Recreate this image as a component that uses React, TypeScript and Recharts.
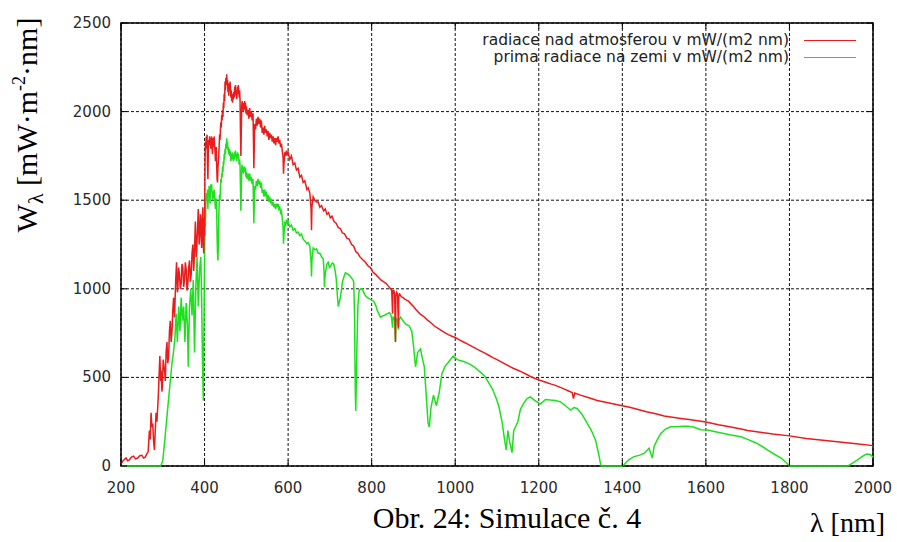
import React from 'react';
import { LineChart, Line, XAxis, YAxis, CartesianGrid, ReferenceArea } from 'recharts';

// Solar spectral irradiance above the atmosphere, mW/(m2 nm), as [wavelength nm, value]
const aboveAtmosphere: [number, number][] = [
  [200, 10], [205, 30], [212, 45], [216, 30], [220, 35], [225, 50], [230, 55], [235, 40], [240, 45],
  [245, 58], [250, 60], [254, 45], [258, 50], [262, 70], [265, 80], [268, 200], [270, 150],
  [272, 300], [274, 220], [276, 240], [278, 140], [280, 90], [282, 200], [284, 300], [286, 250],
  [289, 380], [291, 500], [293, 620], [295, 480], [296, 540], [298, 420], [299, 450], [301, 600],
  [303, 560], [305, 520], [306, 480], [308, 640], [310, 700], [312, 580], [314, 620], [316, 760],
  [318, 820], [320, 700], [322, 760], [324, 880], [326, 950], [328, 840], [329, 900], [331, 1050],
  [333, 1150], [335, 980], [336, 1000], [338, 1120], [340, 1080], [342, 1000], [344, 1030],
  [346, 1140], [348, 1120], [350, 1010], [352, 1050], [354, 1150], [356, 1110], [358, 990],
  [360, 1030], [362, 1120], [364, 1160], [366, 1040], [368, 1080], [370, 1200], [372, 1250],
  [374, 1100], [375, 1150], [377, 1300], [378, 1380], [380, 1180], [381, 1200], [383, 1330],
  [385, 1450], [387, 1250], [388, 1280], [390, 1420], [391, 1400], [392, 1300], [393, 1230],
  [394, 1350], [396, 1460], [397, 1250], [398, 1200], [399, 1400], [400, 1300], [401, 1700],
  [402, 1830], [403, 1790], [404, 1860], [405, 1820], [406, 1870], [407, 1700], [408, 1620],
  [409, 1780], [410, 1840], [411, 1810], [412, 1860], [413, 1820], [414, 1850], [415, 1790],
  [416, 1840], [417, 1860], [418, 1800], [419, 1760], [420, 1830], [421, 1850], [422, 1800],
  [423, 1860], [424, 1810], [425, 1780], [426, 1720], [427, 1760], [428, 1800], [429, 1700],
  [430, 1620], [431, 1600], [432, 1680], [433, 1720], [434, 1750], [435, 1810], [436, 1870],
  [437, 1840], [438, 1900], [439, 1940], [440, 1910], [441, 1980], [442, 1950], [443, 2010],
  [444, 1970], [445, 2050], [446, 2020], [447, 2100], [448, 2060], [449, 2170], [450, 2120],
  [451, 2190], [452, 2150], [453, 2210], [454, 2160], [455, 2180], [456, 2110], [457, 2140],
  [458, 2090], [459, 2160], [460, 2120], [461, 2170], [462, 2130], [463, 2080], [464, 2120],
  [465, 2060], [466, 2100], [467, 2050], [468, 2090], [469, 2070], [470, 2110], [471, 2080],
  [472, 2140], [473, 2110], [474, 2150], [475, 2090], [476, 2120], [477, 2070], [478, 2110],
  [479, 2140], [480, 2100], [481, 2150], [482, 2110], [483, 2080], [484, 2120], [485, 2060],
  [486, 1880], [487, 1750], [488, 1900], [489, 2030], [490, 2060], [491, 2010], [492, 2050],
  [493, 2000], [494, 2040], [495, 2010], [496, 2060], [497, 2020], [498, 2050], [499, 1990],
  [500, 2030], [502, 1980], [504, 2010], [506, 1960], [508, 2020], [510, 1970], [512, 2000],
  [514, 1950], [516, 1990], [517, 1850], [518, 1680], [519, 1800], [520, 1930], [522, 1900],
  [524, 1960], [526, 1920], [528, 1970], [530, 1930], [532, 1960], [534, 1910], [536, 1950],
  [538, 1880], [540, 1910], [542, 1870], [544, 1920], [546, 1880], [548, 1900], [550, 1860],
  [552, 1890], [554, 1840], [556, 1880], [558, 1850], [560, 1870], [562, 1830], [564, 1860],
  [566, 1820], [568, 1850], [570, 1810], [572, 1850], [574, 1830], [576, 1860], [578, 1820],
  [580, 1840], [582, 1800], [584, 1820], [586, 1780], [588, 1740], [589, 1650], [590, 1700],
  [592, 1770], [594, 1750], [596, 1780], [598, 1760], [600, 1770], [604, 1730], [608, 1750],
  [612, 1700], [616, 1710], [620, 1670], [624, 1680], [628, 1630], [632, 1640], [636, 1600],
  [640, 1610], [645, 1560], [648, 1570], [652, 1540], [655, 1450], [656, 1330], [657, 1460],
  [660, 1520], [664, 1500], [668, 1490], [672, 1490], [676, 1460], [680, 1470], [685, 1440],
  [689, 1450], [693, 1420], [697, 1430], [701, 1400], [705, 1410], [710, 1380], [715, 1370],
  [720, 1345], [725, 1340], [730, 1315], [735, 1310], [741, 1285], [746, 1280], [752, 1250],
  [757, 1240], [762, 1210], [767, 1200], [772, 1180], [778, 1165], [785, 1150], [791, 1130],
  [797, 1120], [803, 1095], [810, 1080], [816, 1065], [822, 1050], [828, 1040], [835, 1030],
  [840, 1015], [845, 1000], [848, 990], [850, 860], [851, 990], [853, 990], [855, 970],
  [857, 700], [858, 960], [860, 980], [862, 970], [864, 780], [865, 960], [867, 970],
  [871, 955], [875, 950], [880, 940], [888, 930], [894, 915], [900, 900], [907, 880],
  [915, 860], [924, 845], [933, 825], [941, 810], [950, 790], [960, 775], [970, 760],
  [978, 748], [985, 740], [992, 732], [1000, 725], [1010, 712], [1020, 700], [1030, 688],
  [1040, 675], [1050, 662], [1060, 650], [1070, 638], [1080, 625], [1090, 612], [1100, 600],
  [1110, 588], [1120, 575], [1130, 562], [1140, 550], [1150, 540], [1160, 530], [1170, 518],
  [1180, 505], [1190, 495], [1200, 485], [1210, 478], [1220, 470], [1230, 462], [1240, 455],
  [1250, 445], [1260, 435], [1270, 425], [1280, 415], [1283, 380], [1286, 412], [1300, 400],
  [1320, 385], [1340, 370], [1360, 360], [1380, 350], [1400, 340], [1420, 330], [1440, 318],
  [1460, 305], [1480, 295], [1500, 282], [1520, 275], [1540, 268], [1560, 262], [1580, 255],
  [1600, 248], [1630, 233], [1660, 220], [1690, 206], [1700, 200], [1730, 190], [1760, 180],
  [1800, 170], [1840, 155], [1880, 145], [1920, 135], [1960, 125], [2000, 115],
];

// Direct radiation reaching the ground, mW/(m2 nm), as [wavelength nm, value]
const onGround: [number, number][] = [
  [200, 0], [295, 0], [300, 30], [305, 150], [310, 280], [314, 380], [318, 480], [322, 580],
  [326, 650], [329, 720], [332, 860], [335, 700], [338, 900], [341, 760], [344, 950],
  [347, 820], [350, 900], [353, 700], [356, 920], [359, 800], [361, 560], [364, 900],
  [367, 1000], [370, 850], [373, 1050], [376, 640], [379, 1000], [382, 1180], [385, 900],
  [388, 1100], [391, 1180], [393, 950], [395, 600], [397, 370], [399, 900], [400, 1200],
  [401, 1400], [402, 1350], [403, 1480], [404, 1520], [405, 1540], [406, 1500], [407, 1560],
  [408, 1450], [409, 1560], [410, 1530], [411, 1580], [412, 1540], [413, 1480], [414, 1560],
  [415, 1590], [416, 1550], [417, 1590], [418, 1540], [419, 1500], [420, 1550], [421, 1540],
  [422, 1510], [423, 1560], [424, 1520], [425, 1490], [426, 1450], [427, 1480], [428, 1510],
  [429, 1440], [430, 1300], [431, 1200], [432, 1160], [433, 1250], [434, 1400], [435, 1480],
  [436, 1530], [437, 1500], [438, 1570], [439, 1620], [440, 1600], [441, 1650], [442, 1630],
  [443, 1690], [444, 1660], [445, 1720], [446, 1700], [447, 1760], [448, 1730], [449, 1790],
  [450, 1760], [451, 1820], [452, 1790], [453, 1850], [454, 1810], [455, 1830], [456, 1780],
  [457, 1800], [458, 1760], [459, 1790], [460, 1750], [461, 1780], [462, 1760], [463, 1720],
  [464, 1760], [465, 1740], [466, 1770], [467, 1730], [468, 1760], [469, 1720], [470, 1750],
  [471, 1730], [472, 1770], [473, 1750], [474, 1780], [475, 1740], [476, 1760], [477, 1720],
  [478, 1750], [479, 1770], [480, 1740], [481, 1760], [482, 1730], [483, 1700], [484, 1730],
  [485, 1690], [486, 1560], [487, 1440], [488, 1560], [489, 1680], [490, 1700], [491, 1660],
  [492, 1690], [493, 1650], [494, 1680], [495, 1660], [496, 1690], [497, 1660], [498, 1680],
  [499, 1630], [500, 1660], [502, 1620], [504, 1650], [506, 1610], [508, 1650], [510, 1610],
  [512, 1630], [514, 1590], [516, 1620], [517, 1500], [518, 1370], [519, 1480], [520, 1580],
  [522, 1560], [524, 1610], [526, 1580], [528, 1620], [530, 1590], [532, 1610], [534, 1570],
  [536, 1600], [538, 1540], [540, 1560], [542, 1520], [544, 1560], [546, 1530], [548, 1540],
  [550, 1500], [552, 1530], [554, 1490], [556, 1520], [558, 1490], [560, 1500], [562, 1470],
  [564, 1490], [566, 1460], [568, 1480], [570, 1450], [572, 1480], [574, 1460], [576, 1480],
  [578, 1450], [580, 1460], [582, 1430], [584, 1440], [586, 1400], [588, 1340], [589, 1255],
  [590, 1300], [592, 1370], [594, 1360], [596, 1390], [598, 1370], [600, 1380], [604, 1350],
  [608, 1360], [612, 1330], [616, 1340], [620, 1315], [624, 1320], [628, 1300], [632, 1310],
  [636, 1280], [640, 1270], [645, 1255], [648, 1260], [652, 1240], [655, 1150], [656, 1070],
  [657, 1160], [660, 1230], [664, 1220], [668, 1225], [672, 1200], [676, 1200], [680, 1180],
  [684, 1170], [686, 1100], [687, 1010], [688, 1060], [690, 1100], [693, 1140], [696, 1150],
  [699, 1120], [702, 1130], [706, 1145], [709, 1140], [712, 1110], [715, 1060], [718, 960],
  [720, 900], [722, 920], [725, 950], [728, 1000], [730, 1040], [734, 1070], [737, 1090],
  [741, 1085], [745, 1080], [749, 1070], [752, 1060], [755, 1050], [757, 1040], [759, 850],
  [760, 600], [761, 400], [762, 310], [763, 450], [765, 700], [767, 900], [770, 990],
  [774, 1000], [777, 1000], [781, 980], [785, 960], [790, 950], [797, 940], [801, 935],
  [805, 930], [810, 905], [813, 880], [817, 860], [821, 840], [825, 845], [830, 850],
  [834, 855], [838, 860], [842, 865], [845, 860], [848, 830], [850, 780], [851, 840],
  [853, 840], [855, 820], [857, 700], [858, 820], [860, 830], [862, 820], [864, 770],
  [865, 820], [869, 840], [872, 830], [875, 820], [882, 800], [890, 790], [896, 760],
  [900, 680], [905, 560], [910, 640], [917, 660], [922, 600], [926, 560], [930, 420],
  [935, 240], [938, 220], [942, 330], [948, 400], [955, 340], [962, 420], [968, 520],
  [975, 560], [985, 590], [995, 620], [1005, 600], [1020, 590], [1035, 575], [1045, 560],
  [1060, 530], [1070, 510], [1080, 470], [1090, 430], [1100, 370], [1105, 330], [1112, 250],
  [1118, 150], [1122, 90], [1126, 200], [1130, 140], [1136, 75], [1140, 200], [1144, 220],
  [1150, 250], [1156, 320], [1164, 355], [1172, 380], [1180, 390], [1190, 370], [1204, 350],
  [1216, 375], [1228, 372], [1240, 370], [1252, 362], [1264, 340], [1276, 316], [1284, 330],
  [1292, 325], [1304, 290], [1316, 240], [1326, 200], [1336, 146], [1344, 60], [1348, 10],
  [1350, 0], [1400, 0], [1405, 10], [1415, 35], [1428, 53], [1440, 60], [1452, 71],
  [1460, 90], [1464, 100], [1468, 70], [1472, 45], [1476, 110], [1484, 150], [1492, 184],
  [1504, 210], [1516, 221], [1530, 222], [1545, 224], [1556, 225], [1570, 220], [1588, 205],
  [1604, 203], [1620, 195], [1640, 185], [1660, 175], [1684, 165], [1700, 150], [1720, 130],
  [1735, 110], [1748, 90], [1765, 65], [1780, 45], [1792, 20], [1800, 0], [1940, 0],
  [1950, 15], [1963, 34], [1975, 55], [1985, 68], [1993, 65], [2000, 50],
];

const xTicks = [200, 400, 600, 800, 1000, 1200, 1400, 1600, 1800, 2000];
const yTicks = [0, 500, 1000, 1500, 2000, 2500];

const seriesNames = {
  top: 'radiace nad atmosferou v mW/(m2 nm)',
  ground: 'prima radiace na zemi v mW/(m2 nm)',
};

const RED = '#ea1c1c';
const GREEN = '#1ee01e';

// chart geometry
const W = 897;
const H = 542;
const MARGIN = { top: 23, right: 24, bottom: 46, left: 61 };
const Y_AXIS_W = 60;
const X_AXIS_H = 30;
const PLOT_W = W - MARGIN.left - MARGIN.right - Y_AXIS_W;
const PLOT_H = H - MARGIN.top - MARGIN.bottom - X_AXIS_H;
const TICK_LEN = 6;

const TICK_FONT = '"DejaVu Sans", sans-serif';
const SERIF = '"Liberation Serif", "Times New Roman", serif';

// merge both spectra on a common wavelength grid
const table = (() => {
  const rows = new Map<number, { wl: number; top?: number; ground?: number }>();
  for (const [wl, v] of aboveAtmosphere) rows.set(wl, { ...(rows.get(wl) || { wl }), top: v });
  for (const [wl, v] of onGround) rows.set(wl, { ...(rows.get(wl) || { wl }), ground: v });
  return [...rows.values()].sort((a, b) => a.wl - b.wl);
})();

function XTick(props: any) {
  const { x, y, payload } = props;
  return (
    <g>
      <line x1={x} y1={y} x2={x} y2={y - TICK_LEN} stroke="#000" strokeWidth={1} />
      <line x1={x} y1={y - PLOT_H} x2={x} y2={y - PLOT_H + TICK_LEN} stroke="#000" strokeWidth={1} />
      <text x={x} y={y + 27} textAnchor="middle" fontFamily={TICK_FONT} fontSize={15} fill="#2a2a2a">
        {payload.value}
      </text>
    </g>
  );
}

function YTick(props: any) {
  const { x, y, payload } = props;
  return (
    <g>
      <line x1={x} y1={y} x2={x + TICK_LEN} y2={y} stroke="#000" strokeWidth={1} />
      <line x1={x + PLOT_W} y1={y} x2={x + PLOT_W - TICK_LEN} y2={y} stroke="#000" strokeWidth={1} />
      <text x={x - 10} y={y + 5} textAnchor="end" fontFamily={TICK_FONT} fontSize={15} fill="#2a2a2a">
        {payload.value}
      </text>
    </g>
  );
}

function KeyRow({ label, color }: { label: string; color: string }) {
  return (
    <div style={{ display: 'flex', alignItems: 'center', justifyContent: 'flex-end', height: 17 }}>
      <span style={{ fontFamily: TICK_FONT, fontSize: 15.5, color: '#222', whiteSpace: 'nowrap', lineHeight: '17px' }}>
        {label}
      </span>
      <span style={{ display: 'inline-block', width: 52, height: 0, borderTop: `1px solid ${color}`, marginLeft: 15 }} />
    </div>
  );
}

export default function App() {
  return (
    <div style={{ position: 'absolute', left: 0, top: 0, width: W, height: H, background: '#fff' }}>
      <LineChart width={W} height={H} data={table} margin={MARGIN}>
        <CartesianGrid stroke="#111" strokeWidth={1} strokeDasharray="3 2" verticalValues={xTicks} horizontalValues={yTicks} />
        <XAxis
          dataKey="wl"
          type="number"
          domain={[200, 2000]}
          ticks={xTicks}
          height={X_AXIS_H}
          axisLine={false}
          tickLine={false}
          tickSize={0}
          tickMargin={0}
          tick={<XTick />}
          interval={0}
        />
        <YAxis
          type="number"
          domain={[0, 2500]}
          ticks={yTicks}
          width={Y_AXIS_W}
          axisLine={false}
          tickLine={false}
          tickSize={0}
          tickMargin={0}
          tick={<YTick />}
          interval={0}
        />
        <Line
          dataKey="ground"
          name={seriesNames.ground}
          stroke={GREEN}
          strokeWidth={1.5}
          dot={false}
          connectNulls
          isAnimationActive={false}
        />
        <Line
          dataKey="top"
          name={seriesNames.top}
          stroke={RED}
          strokeWidth={1.5}
          dot={false}
          connectNulls
          isAnimationActive={false}
        />
        <ReferenceArea x1={200} x2={2000} y1={0} y2={2500} fill="none" stroke="#000" strokeWidth={1.5} />
      </LineChart>

      <div style={{ position: 'absolute', left: 0, top: 32, width: 856 }}>
        <KeyRow label={seriesNames.top} color={RED} />
        <KeyRow label={seriesNames.ground} color={GREEN} />
      </div>

      <svg width={W} height={H} style={{ position: 'absolute', left: 0, top: 0, pointerEvents: 'none' }}>
        <text
          transform="translate(37,125) rotate(-90)"
          textAnchor="middle"
          fontFamily={SERIF}
          fontSize={30}
          fill="#000"
        >
          W<tspan fontSize={22} dy={6}>λ</tspan>
          <tspan dy={-6}> [mW·m</tspan>
          <tspan fontSize={18} dy={-12}>-2</tspan>
          <tspan dy={12}>·nm]</tspan>
        </text>
        <text x={507} y={528} textAnchor="middle" fontFamily={SERIF} fontSize={30} fill="#000">
          Obr. 24: Simulace č. 4
        </text>
        <text x={810} y={532} textAnchor="start" fontFamily={SERIF} fontSize={28} fill="#000">
          λ [nm]
        </text>
      </svg>
    </div>
  );
}
